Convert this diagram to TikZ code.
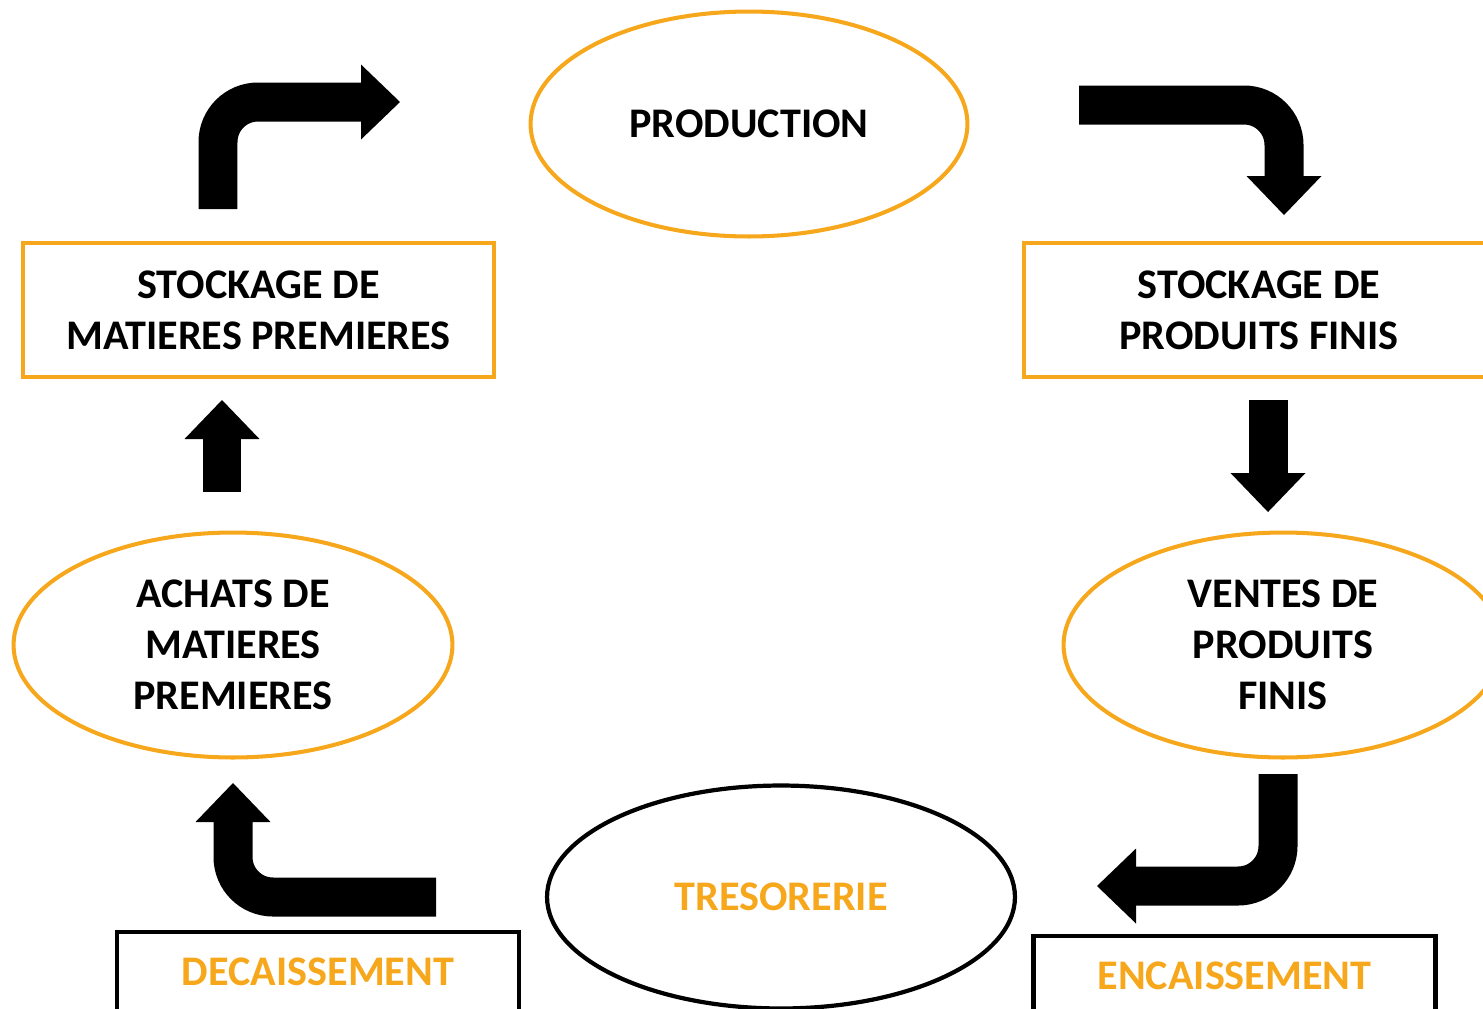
\documentclass[tikz,border=0pt]{standalone}
\usepackage{fontspec}
\setmainfont{Carlito}
\usetikzlibrary{shapes.geometric,arrows.meta}
\definecolor{orng}{RGB}{247,167,28}
\begin{document}
\begin{tikzpicture}[x=0.02cm,y=-0.02cm,font=\fontsize{24}{29}\selectfont\bfseries]
        \tikzstyle{oval}=[ellipse,draw=orng,line width=2.3pt,inner sep=0pt,align=center]
        \tikzstyle{stock}=[rectangle,draw=orng,line width=2.3pt,minimum width=9.42cm,minimum height=2.68cm,align=center]
        \tikzstyle{cash}=[rectangle,draw=black,line width=2.6pt,minimum width=8.04cm,minimum height=1.6cm,text=orng]
        \tikzstyle{flow}=[draw,line width=0.78cm,rounded corners=0.8cm,-{Triangle[length=0.78cm,width=1.5cm,line width=0pt]}]
        \useasboundingbox (0,0) rectangle (1483,1008);
        \clip (0,0) rectangle (1483,1008);
        \begin{scope}
            \node [oval,minimum width=8.74cm,minimum height=4.5cm] (prod) at (749,124) {PRODUCTION};
            \node [stock] (stmp) at (258.5,310) {STOCKAGE DE\\MATIERES PREMIERES};
            \node [stock] (stpf) at (1259,310) {STOCKAGE DE\\PRODUITS FINIS};
            \node [oval,minimum width=8.78cm,minimum height=4.5cm] (achats) at (233,645) {ACHATS DE\\MATIERES\\PREMIERES};
            \node [oval,minimum width=8.78cm,minimum height=4.5cm] (ventes) at (1283,645) {VENTES DE\\PRODUITS\\FINIS};
            \node [oval,draw=black,text=orng,line width=2.4pt,minimum width=9.36cm,minimum height=4.46cm] (treso) at (781,897) {TRESORERIE};
            \node [cash] (decais) at (318,972) {DECAISSEMENT};
            \node [cash] (encais) at (1234.5,976) {ENCAISSEMENT};
            % flow arrows
            \coordinate (a1s) at (218,209); \coordinate (a1c) at (218,102); \coordinate (a1e) at (400,102);
            \coordinate (a2s) at (1079,105); \coordinate (a2c) at (1284,105); \coordinate (a2e) at (1284,215);
            \coordinate (a3s) at (222,492); \coordinate (a3e) at (222,400);
            \coordinate (a4s) at (1268,400); \coordinate (a4e) at (1268,512);
            \coordinate (a5s) at (1278,774); \coordinate (a5c) at (1278,886); \coordinate (a5e) at (1097,886);
            \coordinate (a6s) at (436,897); \coordinate (a6c) at (233,897); \coordinate (a6e) at (233,783);
            \path[flow] (a1s) -- (a1c) -- (a1e);
            \path[flow] (a2s) -- (a2c) -- (a2e);
            \path[flow] (a3s) -- (a3e);
            \path[flow] (a4s) -- (a4e);
            \path[flow] (a5s) -- (a5c) -- (a5e);
            \path[flow] (a6s) -- (a6c) -- (a6e);
        \end{scope}
\end{tikzpicture}
\end{document}
